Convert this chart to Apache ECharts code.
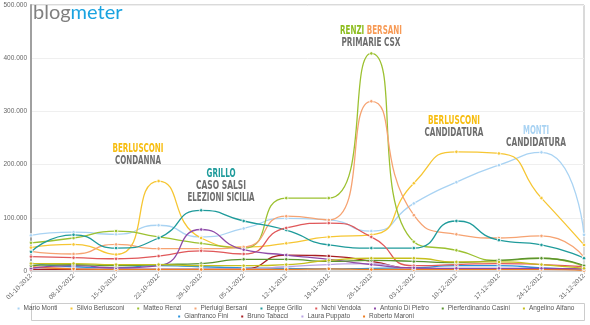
<!DOCTYPE html>
<html><head><meta charset="utf-8">
<script src="https://cdn.jsdelivr.net/npm/echarts@6/dist/echarts.min.js"></script>
<style>html,body{margin:0;padding:0;background:#fff}#c{width:590px;height:325px}</style>
</head><body><div id="c"></div>
<script>
const categories = ['01-10-2012','08-10-2012','15-10-2012','22-10-2012','29-10-2012','05-11-2012','12-11-2012','19-11-2012','26-11-2012','03-12-2012','10-12-2012','17-12-2012','24-12-2012','31-12-2012'];
const yTicks = [0, 100000, 200000, 300000, 400000, 500000];

const monti      = [67000, 73000, 69000, 86000, 64000, 80000, 99000, 96000, 75000, 127000, 167000, 199000, 223000, 68000];
const berlusconi = [44000, 50000, 31000, 169000, 62000, 45000, 52000, 64000, 68000, 165000, 224000, 221000, 137000, 49000];
const renzi      = [53000, 62000, 75000, 64000, 52000, 43000, 137000, 137000, 409000, 55000, 39000, 20000, 24000, 8000];
const bersani    = [37000, 32000, 50000, 42000, 42000, 45000, 103000, 96000, 319000, 105000, 69000, 62000, 66000, 26000];
const grillo     = [36000, 68000, 43000, 62000, 114000, 94000, 77000, 49000, 43000, 43000, 94000, 58000, 49000, 24000];
const vendola    = [27000, 25000, 23000, 28000, 38000, 32000, 81000, 90000, 64000, 10000, 12000, 14000, 12000, 8000];
const dipietro   = [5000, 10000, 6000, 10000, 78000, 40000, 30000, 22000, 12000, 6000, 5000, 5000, 5000, 4000];
const casini     = [10000, 12000, 10000, 12000, 14000, 22000, 22000, 18000, 20000, 18000, 16000, 20000, 24000, 10000];
const alfano     = [14000, 14000, 12000, 12000, 10000, 10000, 12000, 20000, 24000, 24000, 17000, 17000, 12000, 5000];
const fini       = [15000, 8000, 6000, 10000, 8000, 6000, 5000, 4000, 5000, 6000, 10000, 10000, 6000, 3000];
const tabacci    = [3000, 3000, 3000, 3000, 3000, 4000, 30000, 28000, 18000, 5000, 4000, 4000, 4000, 3000];
const puppato    = [6000, 5000, 4000, 4000, 4000, 4000, 8000, 12000, 14000, 4000, 4000, 4000, 4000, 2000];
const maroni     = [8000, 4000, 3000, 3000, 3000, 3000, 3000, 4000, 3000, 3000, 3000, 3000, 3000, 1000];

const seriesNames = ['Mario Monti','Silvio Berlusconi','Matteo Renzi','Pierluigi Bersani','Beppe Grillo','Nichi Vendola','Antonio Di Pietro','Pierferdinando Casini','Angelino Alfano','Gianfranco Fini','Bruno Tabacci','Laura Puppato','Roberto Maroni'];
const seriesData = [monti, berlusconi, renzi, bersani, grillo, vendola, dipietro, casini, alfano, fini, tabacci, puppato, maroni];
const colors = ['#a9d3f3','#f6c633','#9cc131','#f6a372','#1f9b9b','#e0585a','#8e4aa8','#5b9430','#c6bf1c','#2a93dc','#a81e22','#b9a3e3','#ee7d22'];

const legendRow1 = seriesNames.slice(0, 9);
const legendRow2 = seriesNames.slice(9);

const annotations = [
  {x: 138, y: 142, lines: [[['BERLUSCONI', '#f7bd0f']], [['CONDANNA', '#6e6e6e']]], widths: [51, 46]},
  {x: 221, y: 167, lines: [[['GRILLO', '#1f9b9b']], [['CASO SALSI', '#6e6e6e']], [['ELEZIONI SICILIA', '#6e6e6e']]], widths: [29, 50, 67]},
  {x: 371, y: 24, lines: [[['RENZI', '#8dbd1e'], ['BERSANI', '#f79a55']]], widths: [62]},
  {x: 371, y: 36, lines: [[['PRIMARIE CSX', '#6e6e6e']]], widths: [59]},
  {x: 454, y: 114, lines: [[['BERLUSCONI', '#f7bd0f']], [['CANDIDATURA', '#6e6e6e']]], widths: [52, 59]},
  {x: 536, y: 124, lines: [[['MONTI', '#a9d3f3']], [['CANDIDATURA', '#6e6e6e']]], widths: [26, 60]}
];

function fmt(v) { return String(v).replace(/\B(?=(\d{3})+(?!\d))/g, '.'); }

const annFont = 'bold 13px "Liberation Sans Narrow", "DejaVu Sans Condensed", "Liberation Sans", sans-serif';
const cv = document.createElement('canvas').getContext('2d');
cv.font = annFont;

const graphics = [];
graphics.push({
  type: 'text', left: 33, top: 3,
  style: {
    text: '{a|blog}{b|meter}',
    rich: {
      a: {fill: '#808080', fontFamily: 'Lato', fontSize: 20, fontWeight: 'normal'},
      b: {fill: '#1aa3e0', fontFamily: 'Lato', fontSize: 20, fontWeight: 'normal'}
    }
  }, z: 100
});
graphics.push({type: 'rect', shape: {x: 31.5, y: 303.5, width: 553, height: 17}, style: {fill: 'none', stroke: '#cccccc', lineWidth: 1}, z: 0});

annotations.forEach(a => {
  a.lines.forEach((line, i) => {
    const full = line.map(p => p[0]).join(' ');
    const w = cv.measureText(full).width;
    const sx = a.widths[i] / w;
    const rich = {};
    let txt = '';
    line.forEach((p, k) => {
      rich['p' + k] = {fill: p[1], font: annFont};
      txt += (k ? ' ' : '') + '{p' + k + '|' + p[0] + '}';
    });
    graphics.push({
      type: 'text', x: a.x, y: a.y + i * 12, scaleX: sx, scaleY: 1,
      style: {text: txt, rich: rich, align: 'center', verticalAlign: 'top', font: annFont},
      z: 100
    });
  });
});

const chart = echarts.init(document.getElementById('c'), null, {renderer: 'canvas'});
chart.setOption({
  backgroundColor: '#fff',
  animation: false,
  color: colors,
  grid: {left: 31, right: 6, top: 5, bottom: 54, show: true, borderColor: '#b5b5b5', borderWidth: 1, backgroundColor: 'transparent'},
  legend: [
    {data: legendRow1, left: 'center', top: 305, itemWidth: 4, itemHeight: 4, itemGap: 11, icon: 'rect', padding: 0,
     textStyle: {fontSize: 6.5, color: '#555', fontFamily: 'Liberation Sans, Arial, sans-serif', padding: [0, 0, 0, -2]}},
    {data: legendRow2, left: 'center', top: 313, itemWidth: 4, itemHeight: 4, itemGap: 11, icon: 'rect', padding: 0,
     textStyle: {fontSize: 6.5, color: '#555', fontFamily: 'Liberation Sans, Arial, sans-serif', padding: [0, 0, 0, -2]}}
  ],
  xAxis: {
    type: 'category', data: categories, boundaryGap: false,
    axisLine: {show: true, lineStyle: {color: '#cfcfcf'}},
    axisTick: {show: true, length: 3, lineStyle: {color: '#cfcfcf'}},
    axisLabel: {rotate: 45, fontSize: 6.5, color: '#666', margin: 4, fontFamily: 'Liberation Sans, Arial, sans-serif'},
    splitLine: {show: false}
  },
  yAxis: {
    type: 'value', min: yTicks[0], max: yTicks[yTicks.length - 1], interval: 100000,
    axisLine: {show: true, lineStyle: {color: '#a0a0a0', width: 2}},
    axisTick: {show: false},
    axisLabel: {fontSize: 6.5, color: '#666', margin: 4, formatter: v => fmt(v), fontFamily: 'Liberation Sans, Arial, sans-serif'},
    splitLine: {lineStyle: {color: '#efefef'}}
  },
  graphic: graphics,
  series: seriesNames.map((n, i) => ({
    name: n, type: 'line', data: seriesData[i], smooth: 0.6,
    symbol: 'circle', symbolSize: 3.5,
    itemStyle: {color: colors[i], borderColor: '#ffffff', borderWidth: 0.8},
    lineStyle: {width: 1.3, color: colors[i]},
    z: 10 - (i > 8 ? 1 : 0)
  }))
});
</script></body></html>
